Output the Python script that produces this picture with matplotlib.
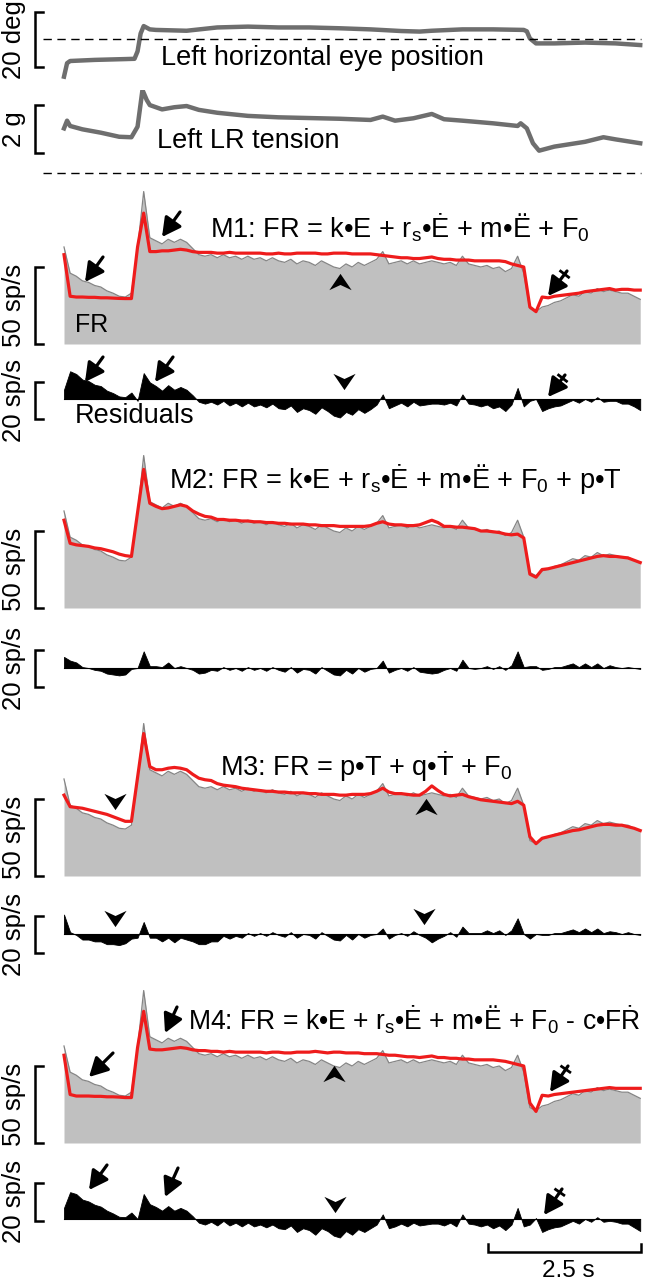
import numpy as np
import matplotlib
matplotlib.use('Agg')
import matplotlib.pyplot as plt
from matplotlib.path import Path

plt.rcParams['font.family'] = ['Liberation Sans', 'DejaVu Sans']
plt.rcParams['mathtext.fontset'] = 'custom'
plt.rcParams['mathtext.rm'] = 'Liberation Sans'
plt.rcParams['mathtext.it'] = 'Liberation Sans:italic'

# ---- data ----
dt = 0.1  # s, sampling of the rate traces

# firing rate (sp/s)
fr = [63, 46, 44, 41, 40, 38, 37, 34.5, 33, 31, 30.5, 33, 62, 99, 69, 67, 65, 68, 66, 68,
      66, 62, 58, 57, 58, 56, 58, 56, 57, 55, 57, 55, 56, 54, 56, 54, 53, 55, 52, 54,
      53, 51, 54, 52, 50, 49, 52, 50, 53, 51, 53, 55, 60, 52, 53, 54, 52, 54, 52, 53,
      54, 53, 52, 53, 51, 57, 52, 51, 50, 51, 49, 50, 47, 49, 57, 46, 23, 21, 24, 25,
      27, 28, 30, 32, 31, 34, 33, 36, 34, 35, 34, 33, 33, 31, 29]

# model fits (sp/s)
m1 = [58, 31, 30.5, 30.5, 30.3, 30.3, 30, 30, 29.8, 29.6, 29.5, 29.5, 63, 85, 60, 60, 60.5, 60.5, 61, 61.5,
      61, 60, 59.5, 59.5, 59.5, 59, 59, 59.5, 59, 59, 59, 59, 59, 58.5, 58.5, 59, 58.5, 58.5, 59, 59,
      59, 59, 58.5, 58.5, 59, 59, 59, 58.5, 58.5, 58.5, 58.5, 58, 57.5, 57, 56.5, 56, 56, 55.5, 55.5, 56,
      56.5, 55.5, 55, 55, 54.5, 54.5, 54.5, 54, 54, 54, 54, 54, 53.5, 52, 51, 50, 24, 21, 30.5, 30,
      31, 31.5, 32, 32.5, 33, 34, 34.5, 35, 35.5, 36, 35, 35.5, 35.5, 35, 35]
m2 = [57, 42, 41, 40.5, 40, 39, 38.5, 37.5, 36.5, 35, 34, 33.5, 62, 90, 68, 66, 64.5, 65, 66, 67,
      66, 63, 61, 59.5, 59, 57.5, 57.5, 57, 57, 56.5, 56.5, 56, 56, 55.5, 55.5, 55, 55, 54.5, 54.5, 54.5,
      54, 54, 53.5, 53.5, 53.5, 53, 53, 53, 53, 53, 53.5, 55, 56, 54.5, 54, 54, 53.5, 53.5, 54, 55.5,
      57, 55.5, 53, 53, 52.5, 52.5, 52, 51.5, 50, 50, 49.5, 49, 48, 47.5, 48, 45.5, 22, 20, 25, 25.5,
      26.5, 27.5, 28.5, 29.5, 30.5, 31.5, 32.5, 33.5, 34, 33.5, 33.5, 33, 32.5, 31, 29.5]
m3 = [52.5, 45, 44.5, 44, 43, 42, 41, 40, 38.5, 37, 35.5, 35.5, 64, 92.5, 71, 69, 69, 70, 70.5, 70,
      69, 66, 63.5, 62.5, 62, 60, 59, 58.5, 58, 57, 56.5, 56, 55.5, 55, 55, 54.5, 54.5, 54, 54, 54,
      53.5, 53.5, 53, 53, 53, 52.5, 52.5, 53, 53, 53, 53.5, 55, 57, 54.5, 53.5, 53.5, 53, 52.5, 52.5, 55,
      58.5, 55.5, 53, 52, 52.5, 53, 51.5, 50.5, 49.5, 49, 48.5, 48, 47.5, 47, 48.5, 46, 25.5, 21, 24.5, 25.5,
      26.5, 27.5, 28.5, 29.5, 30, 31, 32, 33, 33.5, 33.5, 33, 33, 32, 31, 29.5]
m4 = [57, 31.5, 30.5, 30.5, 30.5, 30.3, 30.3, 30, 30, 29.8, 29.5, 29.5, 62, 85.5, 61, 60.5, 60.5, 61, 61.5, 62,
      61.5, 60.5, 60, 60, 59.5, 59.5, 59, 59.5, 59, 59, 59, 59, 59, 58.5, 59, 59, 58.5, 58.5, 59, 59,
      59, 59.5, 59, 58.5, 59, 59, 58.5, 58.5, 58.5, 58, 58, 58, 57.5, 57, 57, 56.5, 56, 56, 55.5, 56,
      56.5, 55.5, 55.5, 55, 55, 54.5, 54.5, 54, 54, 54, 54, 53.5, 53, 52, 51, 50, 26, 20.5, 31, 30.5,
      31.5, 32, 32.5, 33, 33.5, 34, 34.5, 35, 35.5, 36, 35.5, 35.5, 35.5, 35.5, 35.5]

# eye position (deg) and muscle tension (g)
eye_t = [0, 0.05, 0.1, 0.5, 1.0, 1.15, 1.2, 1.25, 1.3, 1.4, 1.5, 2.0, 2.5, 3.0, 3.5, 4.0,
         4.5, 5.0, 5.5, 5.8, 6.0, 6.5, 7.0, 7.5, 7.55, 7.6, 7.7, 8.0, 8.5, 9.0, 9.4]
eye_deg = [-13.7, -8.8, -8.0, -7.6, -7.3, -7.2, -4.5, 2.0, 4.7, 3.5, 3.3, 3.0, 4.2, 4.5, 4.2, 4.2,
           3.9, 3.5, 2.9, 2.7, 3.0, 3.5, 3.5, 3.3, 2.8, 0.2, -1.6, -1.6, -1.3, -1.6, -2.2]
ten_t = [0, 0.05, 0.1, 0.3, 0.6, 0.9, 1.1, 1.2, 1.28, 1.35, 1.4, 1.6, 1.8, 2.0, 2.2, 2.5, 3.0, 3.5, 4.0,
         4.5, 5.0, 5.2, 5.4, 5.7, 6.0, 6.2, 6.5, 7.0, 7.4, 7.45, 7.55, 7.65, 7.75, 8.0, 8.5, 8.8, 9.0, 9.4]
ten_g = [1.86, 2.18, 1.96, 1.82, 1.68, 1.51, 1.49, 1.93, 3.46, 3.04, 2.83, 2.65, 2.74, 2.79, 2.63, 2.51, 2.38, 2.32, 2.29,
         2.26, 2.21, 2.35, 2.18, 2.28, 2.46, 2.24, 2.18, 2.07, 1.96, 2.07, 1.86, 1.24, 0.93, 1.10, 1.30, 1.49, 1.40, 1.24]

models = [m1, m2, m3, m4]
eqs = [r'M1: FR = k•E + r$_\mathrm{s}$•Ė + m•Ë + F$_0$',
       r'M2: FR = k•E + r$_\mathrm{s}$•Ė + m•Ë + F$_0$ + p•T',
       r'M3: FR = p•T + q•Ṫ + F$_0$',
       r'M4: FR = k•E + r$_\mathrm{s}$•Ė + m•Ë + F$_0$ - c•FṘ']

t = np.arange(len(fr)) * dt
fr = np.array(fr)

# ---- layout (pixels) ----
W, H = 646, 1280
X0, PPS = 64, 61.3          # x of t=0, pixels per second
FR_PX, RES_PX = 1.54, 1.85  # pixels per sp/s
GRAY = '#6e6e6e'
RED = '#ee1c1c'

fig = plt.figure(figsize=(W / 100, H / 100), dpi=100)


def add_panel(top, bottom, y_top, y_bottom):
    ax = fig.add_axes([0, 1 - bottom / H, 1, (bottom - top) / H])
    ax.set_xlim(-X0 / PPS, (W - X0) / PPS)
    ax.set_ylim(y_bottom, y_top)
    ax.axis('off')
    return ax


def bracket(ax, y0, y1):
    xb, xt = (35 - X0) / PPS, (43 - X0) / PPS
    ax.plot([xt, xb, xb, xt], [y0, y0, y1, y1], color='k', lw=1.8,
            clip_on=False, solid_joinstyle='miter')


dash_x = [(43 - X0) / PPS, (641 - X0) / PPS]

# eye position
ax = add_panel(0, 90, 39 / 2.75, (39 - 90) / 2.75)
ax.plot(eye_t, eye_deg, color=GRAY, lw=3.2)
ax.plot(dash_x, [0, 0], color='k', lw=1, dashes=(6, 4))
bracket(ax, -10.2, 9.8)

# tension
ax = add_panel(90, 180, 83 / 24, -7 / 24)
ax.plot(ten_t, ten_g, color=GRAY, lw=3.2)
ax.plot(dash_x, [0, 0], color='k', lw=1, dashes=(6, 4))
bracket(ax, 0.83, 2.83)

fr_base = [344, 608, 876, 1143]
res_base = [399, 668, 934, 1219]
res_bar = [(-11, 9), (-10, 10), (-10, 10), (-1, 19.5)]

for i, m in enumerate(models):
    b = fr_base[i]
    ax = add_panel(b - 175, b + 8, 175 / FR_PX, -8 / FR_PX)
    ax.fill_between(t, 0, fr, color='#c0c0c0', lw=0)
    ax.plot(t, fr, color='#858585', lw=0.9)
    ax.plot(t, m, color=RED, lw=2.3)
    bracket(ax, 0, 50)

    rb = res_base[i]
    ax = add_panel(rb - 35, rb + 35, 35 / RES_PX, -35 / RES_PX)
    res = fr - np.array(m)
    ax.fill_between(t, 0, res, color='k', lw=0.6)
    ax.plot([t[0], t[-1]], [0, 0], color='k', lw=0.8)
    bracket(ax, *res_bar[i])
    if i == 3:
        x1 = (488 - X0) / PPS
        yb, yt = (rb - 1252) / RES_PX, (rb - 1244) / RES_PX
        ax.plot([x1, x1, x1 + 2.5, x1 + 2.5], [yt, yb, yb, yt], color='k', lw=1.8,
                clip_on=False, solid_joinstyle='miter')

# ---- overlay: labels and annotations in pixel coordinates ----
ov = fig.add_axes([0, 0, 1, 1])
ov.set_xlim(0, W)
ov.set_ylim(H, 0)
ov.axis('off')
ov.patch.set_alpha(0)

fs = 19.5
ov.text(14, 40, '20 deg', rotation=90, ha='center', va='center', fontsize=18.5)
ov.text(14, 129, '2 g', rotation=90, ha='center', va='center', fontsize=18.5)
for i in range(4):
    ov.text(14, fr_base[i] - 39, '50 sp/s', rotation=90, ha='center', va='center', fontsize=18.5)
    lo, hi = res_bar[i]
    ov.text(14, res_base[i] - (lo + hi) / 2 * RES_PX, '20 sp/s', rotation=90,
            ha='center', va='center', fontsize=18.5)

ov.text(161, 65, 'Left horizontal eye position', fontsize=fs, va='baseline')
ov.text(157, 148, 'Left LR tension', fontsize=fs, va='baseline')
eq_pos = [(210, 238), (169, 488), (220, 775), (188, 1029)]
eq_fs = [fs, fs, fs, 19.1]
for (x, y), s, f in zip(eq_pos, eqs, eq_fs):
    ov.text(x, y, s, fontsize=f, va='baseline')
ov.text(75, 332, 'FR', fontsize=18, va='baseline')
ov.text(75, 423, 'Residuals', fontsize=fs, va='baseline')
ov.text(568, 1277, '2.5 s', fontsize=17.5, ha='center', va='baseline')


def arrow(tail, tip, cross=False):
    ov.annotate('', xy=tip, xytext=tail,
                arrowprops=dict(arrowstyle='-|>,head_length=0.75,head_width=0.4',
                                color='k', lw=2.3, shrinkA=0, shrinkB=0,
                                mutation_scale=15))
    if cross:
        u = np.array(tip, float) - np.array(tail, float)
        u /= np.hypot(*u)
        n = np.array([-u[1], u[0]])
        c = np.array(tail, float) + 4 * u
        ov.plot([c[0] - 5 * n[0], c[0] + 5 * n[0]], [c[1] - 5 * n[1], c[1] + 5 * n[1]],
                color='k', lw=2)


up = Path([(0, 0.65), (0.75, -0.45), (0, -0.1), (-0.75, -0.45), (0, 0.65)],
          [Path.MOVETO, Path.LINETO, Path.LINETO, Path.LINETO, Path.CLOSEPOLY])
down = Path([(0, -0.65), (0.75, 0.45), (0, 0.1), (-0.75, 0.45), (0, -0.65)],
            [Path.MOVETO, Path.LINETO, Path.LINETO, Path.LINETO, Path.CLOSEPOLY])


def chevron(x, y, pointing_up):
    # marker shapes are drawn in screen space
    ov.plot([x], [y], marker=up if pointing_up else down, color='k', ms=16, mew=0)


# M1
arrow((103, 257), (85, 282))
arrow((180, 212), (162, 237))
arrow((567, 271), (548, 296), cross=True)
chevron(340, 283, True)
arrow((103, 357), (85, 382))
arrow((173, 357), (155, 382))
arrow((565, 375), (548, 397), cross=True)
chevron(344, 380, False)
# M3
chevron(115, 800, False)
chevron(426, 808, True)
chevron(115, 917, False)
chevron(424, 915, False)
# M4
arrow((113, 1053), (89, 1077))
arrow((177, 1007), (165, 1033))
arrow((568, 1066), (550, 1092), cross=True)
chevron(334, 1075, True)
arrow((107, 1165), (89, 1190))
arrow((178, 1168), (165, 1197))
arrow((562, 1189), (544, 1215), cross=True)
chevron(335, 1203, False)

fig.savefig('out.png', dpi=100)
